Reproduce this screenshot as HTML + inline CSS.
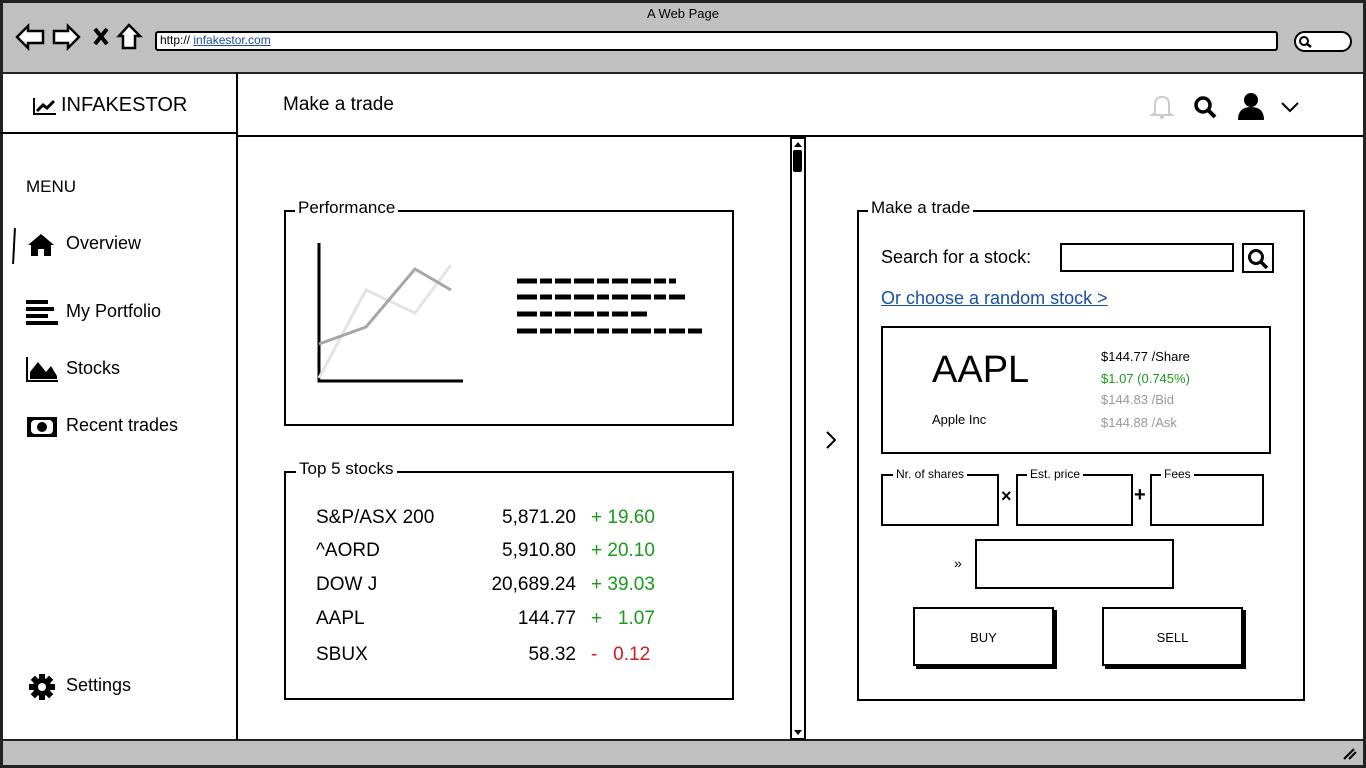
<!DOCTYPE html>
<html><head><meta charset="utf-8"><style>
*{box-sizing:border-box;margin:0;padding:0}
body{width:1366px;height:768px;position:relative;background:#fff;font-family:"Liberation Sans",sans-serif;color:#000;overflow:hidden}
.a{position:absolute}
.box{position:absolute;border:2px solid #000}
.lg{position:absolute;background:#fff;padding:0 3px;font-size:16px;line-height:16px}
.t{position:absolute;white-space:nowrap}
</style></head><body>
<!-- browser chrome -->
<div class="a" style="left:0;top:0;width:1366px;height:74px;background:#c0c0c0;border:3px solid #222;border-bottom:2px solid #222"></div>
<div class="t" style="left:0;width:1366px;text-align:center;top:6px;font-size:13px">A Web Page</div>
<svg class="a" style="left:14px;top:23px" width="130" height="30">
<path d="M3 14 L14 3 L14 8 L29 8 L29 20 L14 20 L14 25 Z" fill="#fff" stroke="#000" stroke-width="2.5"/>
<path d="M65 14 L54 3 L54 8 L40 8 L40 20 L54 20 L54 25 Z" fill="#fff" stroke="#000" stroke-width="2.5"/>
<path d="M81 6 L93 21 M93 6 L81 21" stroke="#000" stroke-width="4"/>
<path d="M115 2 L105 13 L109 13 L109 25 L121 25 L121 13 L126 13 Z" fill="#fff" stroke="#000" stroke-width="2.5"/>
</svg>
<div class="a" style="left:155px;top:31px;width:1123px;height:20px;background:#fff;border:2px solid #000;border-radius:3px"></div>
<div class="t" style="left:160px;top:33px;font-size:12px">http:// <span style="color:#1a4fa0;text-decoration:underline">infakestor.com</span></div>
<div class="a" style="left:1294px;top:31px;width:58px;height:21px;background:#fff;border:2px solid #000;border-radius:11px"></div>
<svg class="a" style="left:1298px;top:35px" width="16" height="14"><circle cx="6" cy="6" r="4" fill="none" stroke="#000" stroke-width="2"/><path d="M9 9 L13 12" stroke="#000" stroke-width="2.5"/></svg>
<!-- bottom bar -->
<div class="a" style="left:0;top:739px;width:1366px;height:29px;background:#c0c0c0;border:3px solid #222;border-top:2px solid #222"></div>
<svg class="a" style="left:1342px;top:745px" width="16" height="16"><path d="M2 14 L12 4 M7 14 L14 7" stroke="#000" stroke-width="2"/></svg>
<!-- side borders -->
<div class="a" style="left:0;top:73px;width:3px;height:667px;background:#222"></div>
<div class="a" style="left:1363px;top:73px;width:3px;height:667px;background:#222"></div>
<!-- sidebar -->
<div class="a" style="left:236px;top:73px;width:2px;height:667px;background:#000"></div>
<div class="a" style="left:0;top:132px;width:236px;height:2px;background:#000"></div>
<svg class="a" style="left:32px;top:96px" width="26" height="20"><path d="M2 2 L2 18 L24 18" stroke="#000" stroke-width="2" fill="none"/><path d="M5 15 L11 9 L15 12 L22 5" stroke="#000" stroke-width="3" fill="none"/></svg>
<div class="t" style="left:61px;top:94px;font-size:20px">INFAKESTOR</div>
<div class="t" style="left:26px;top:177px;font-size:17px">MENU</div>
<div class="a" style="left:13px;top:228px;width:2px;height:36px;background:#000;transform:rotate(3deg)"></div>
<svg class="a" style="left:27px;top:233px" width="30" height="24"><path d="M1 12 L14 1 L27 12 L24 12 L24 23 L17 23 L17 16 L11 16 L11 23 L4 23 L4 12 Z" fill="#000"/></svg>
<div class="t" style="left:66px;top:233px;font-size:18px">Overview</div>
<svg class="a" style="left:26px;top:300px" width="34" height="26"><rect x="0" y="0" width="22" height="4"/><rect x="0" y="7" width="28" height="4"/><rect x="0" y="14" width="22" height="4"/><rect x="0" y="21" width="32" height="4"/></svg>
<div class="t" style="left:66px;top:301px;font-size:18px">My Portfolio</div>
<svg class="a" style="left:26px;top:356px" width="34" height="26"><path d="M1 1 L1 25 L32 25" stroke="#000" stroke-width="2" fill="none"/><path d="M4 23 L4 16 L12 6 L20 16 L25 10 L31 20 L31 23 Z" fill="#000"/></svg>
<div class="t" style="left:66px;top:358px;font-size:18px">Stocks</div>
<svg class="a" style="left:26px;top:416px" width="32" height="22"><rect x="1" y="1" width="30" height="20" fill="#000"/><rect x="5" y="4" width="22" height="14" fill="#fff" rx="4"/><circle cx="16" cy="11" r="5" fill="#000"/></svg>
<div class="t" style="left:66px;top:415px;font-size:18px">Recent trades</div>
<svg class="a" style="left:28px;top:673px" width="28" height="28" viewBox="0 0 28 28"><g transform="translate(14,14)"><g fill="#000"><rect x="-3" y="-13" width="6" height="26"/><rect x="-3" y="-13" width="6" height="26" transform="rotate(45)"/><rect x="-3" y="-13" width="6" height="26" transform="rotate(90)"/><rect x="-3" y="-13" width="6" height="26" transform="rotate(135)"/><circle r="9"/></g><circle r="4" fill="#fff"/></g></svg>
<div class="t" style="left:66px;top:675px;font-size:18px">Settings</div>
<!-- header -->
<div class="a" style="left:237px;top:135px;width:1127px;height:2px;background:#000"></div>
<div class="t" style="left:283px;top:94px;font-size:19px">Make a trade</div>
<svg class="a" style="left:1150px;top:94px" width="24" height="26"><path d="M5 19 L5 10 Q5 3 12 3 Q19 3 19 10 L19 19 L22 21 L2 21 Z" fill="none" stroke="#ccc" stroke-width="2"/><circle cx="12" cy="23" r="2" fill="#ccc"/></svg>
<svg class="a" style="left:1193px;top:95px" width="26" height="26"><circle cx="10" cy="10" r="7" fill="none" stroke="#000" stroke-width="3.5"/><path d="M15 15 L22 22" stroke="#000" stroke-width="4"/></svg>
<svg class="a" style="left:1237px;top:92px" width="28" height="30"><circle cx="14" cy="8" r="7"/><path d="M1 28 Q1 15 14 15 Q27 15 27 28 Z"/></svg>
<svg class="a" style="left:1280px;top:100px" width="20" height="14"><path d="M2 3 L10 11 L18 3" fill="none" stroke="#000" stroke-width="2"/></svg>
<!-- scrollbar -->
<div class="a" style="left:790px;top:137px;width:16px;height:603px;border:2px solid #000;background:#fff"></div>
<div class="a" style="left:793px;top:150px;width:9px;height:22px;background:#000;border-radius:2px"></div>
<svg class="a" style="left:792px;top:139px" width="12" height="10"><path d="M2 8 L6 3 L10 8 Z"/></svg>
<svg class="a" style="left:792px;top:728px" width="12" height="10"><path d="M2 2 L6 7 L10 2 Z"/></svg>
<svg class="a" style="left:824px;top:430px" width="14" height="20"><path d="M3 2 L11 10 L3 18" fill="none" stroke="#000" stroke-width="2"/></svg>
<!-- Performance -->
<div class="box" style="left:284px;top:210px;width:450px;height:216px"></div>
<div class="lg" style="left:295px;top:200px;font-size:17px">Performance</div>
<svg class="a" style="left:290px;top:230px" width="430" height="160">
<path d="M29 13 L29 151 L173 151" fill="none" stroke="#000" stroke-width="3"/>
<path d="M29 148 L76 60 L125 83 L161 35" fill="none" stroke="#e4e4e4" stroke-width="3"/>
<path d="M29 114 L76 97 L125 39 L161 60" fill="none" stroke="#a6a6a6" stroke-width="3"/>
<g stroke="#000" stroke-width="5" stroke-dasharray="20 3 12 3 16 3">
<path d="M227 51 L386 51"/><path d="M227 67 L396 67"/><path d="M227 84 L357 84"/><path d="M227 101 L412 101"/></g>
</svg>
<!-- Top 5 -->
<div class="box" style="left:284px;top:471px;width:450px;height:229px"></div>
<div class="lg" style="left:296px;top:461px;font-size:17px">Top 5 stocks</div>
<div style="position:absolute;left:316px;top:508px;font-size:19px;line-height:20px">
<div class="t" style="top:0">S&amp;P/ASX 200</div><div class="t" style="top:33px">^AORD</div><div class="t" style="top:67px">DOW J</div><div class="t" style="top:101px">AAPL</div><div class="t" style="top:137px">SBUX</div></div>
<div style="position:absolute;left:440px;top:508px;width:136px;font-size:19px;line-height:20px;text-align:right">
<div class="a" style="right:0;top:0">5,871.20</div><div class="a" style="right:0;top:33px">5,910.80</div><div class="a" style="right:0;top:67px">20,689.24</div><div class="a" style="right:0;top:101px">144.77</div><div class="a" style="right:0;top:137px">58.32</div></div>
<div style="position:absolute;left:591px;top:508px;font-size:19px;line-height:20px;color:#1a9a1a">
<div class="t" style="top:0">+ 19.60</div><div class="t" style="top:33px">+ 20.10</div><div class="t" style="top:67px">+ 39.03</div><div class="t" style="top:101px">+&nbsp;&nbsp; 1.07</div><div class="t" style="top:137px;color:#d01c1c">-&nbsp;&nbsp; 0.12</div></div>
<!-- Make a trade -->
<div class="box" style="left:857px;top:210px;width:448px;height:491px"></div>
<div class="lg" style="left:868px;top:200px;font-size:17px">Make a trade</div>
<div class="t" style="left:881px;top:247px;font-size:18px">Search for a stock:</div>
<div class="box" style="left:1060px;top:243px;width:174px;height:29px"></div>
<div class="box" style="left:1242px;top:243px;width:32px;height:30px"></div>
<svg class="a" style="left:1246px;top:247px" width="26" height="24"><circle cx="10" cy="10" r="6.5" fill="none" stroke="#000" stroke-width="3"/><path d="M15 15 L21 21" stroke="#000" stroke-width="3.5"/></svg>
<div class="t" style="left:881px;top:288px;font-size:18px;color:#1a4fa0;text-decoration:underline">Or choose a random stock &gt;</div>
<div class="box" style="left:881px;top:326px;width:390px;height:128px"></div>
<div class="t" style="left:932px;top:349px;font-size:38px">AAPL</div>
<div class="t" style="left:932px;top:412px;font-size:13px">Apple Inc</div>
<div class="t" style="left:1101px;top:349px;font-size:13px">$144.77 /Share</div>
<div class="t" style="left:1101px;top:371px;font-size:13px;color:#1a9a1a">$1.07 (0.745%)</div>
<div class="t" style="left:1101px;top:392px;font-size:13px;color:#999">$144.83 /Bid</div>
<div class="t" style="left:1101px;top:415px;font-size:13px;color:#999">$144.88 /Ask</div>
<div class="box" style="left:881px;top:474px;width:118px;height:52px"></div>
<div class="lg" style="left:893px;top:466px;font-size:12px">Nr. of shares</div>
<div class="t" style="left:1001px;top:486px;font-size:18px;font-weight:bold">×</div>
<div class="box" style="left:1016px;top:474px;width:117px;height:52px"></div>
<div class="lg" style="left:1027px;top:466px;font-size:12px">Est. price</div>
<div class="t" style="left:1134px;top:484px;font-size:20px;font-weight:bold">+</div>
<div class="box" style="left:1150px;top:474px;width:114px;height:52px"></div>
<div class="lg" style="left:1161px;top:466px;font-size:12px">Fees</div>
<div class="t" style="left:954px;top:555px;font-size:14px">»</div>
<div class="box" style="left:975px;top:539px;width:199px;height:50px"></div>
<div class="box" style="left:913px;top:607px;width:141px;height:59px;box-shadow:3px 3px 0 #000"></div>
<div class="t" style="left:913px;top:630px;width:141px;text-align:center;font-size:13px">BUY</div>
<div class="box" style="left:1102px;top:607px;width:141px;height:59px;box-shadow:3px 3px 0 #000"></div>
<div class="t" style="left:1102px;top:630px;width:141px;text-align:center;font-size:13px">SELL</div>
</body></html>
